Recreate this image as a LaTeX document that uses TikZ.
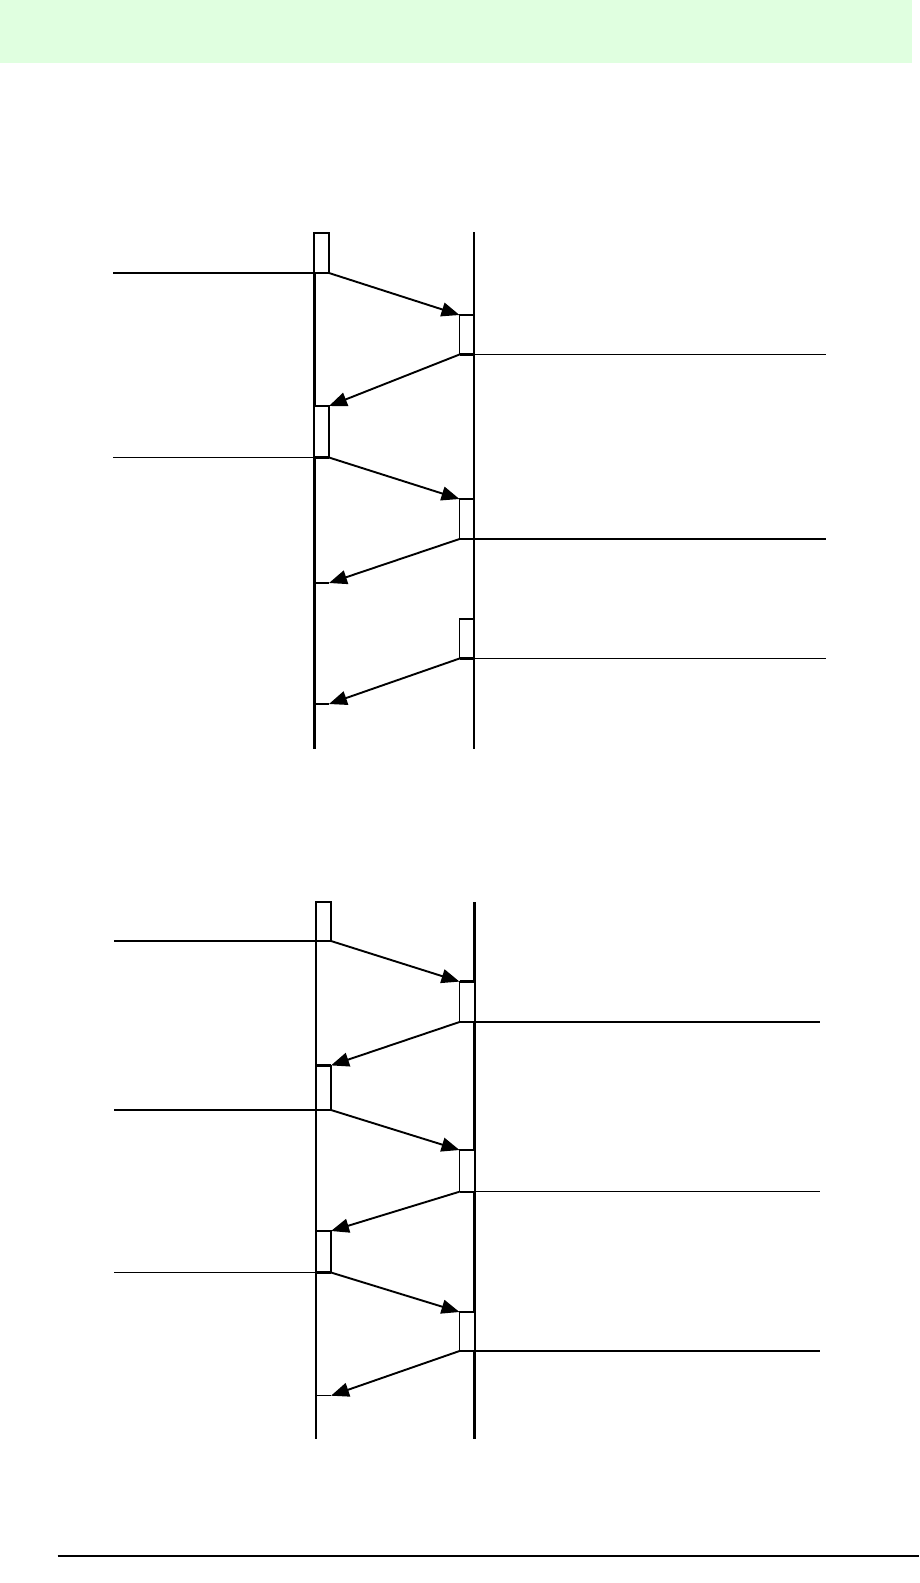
\documentclass[tikz,border=0pt]{standalone}
\usetikzlibrary{arrows.meta}
\definecolor{bandgreen}{RGB}{224,255,224}
\tikzset{
  lifethick/.style={line width=3pt},
  lifethin/.style={line width=2pt},
  actbox/.style={draw,line width=1.1pt,fill=white},
  boxtop/.style={line width=2.3pt},
  msg/.style={line width=1.9pt,-{Triangle[length=18pt,width=14pt]}},
  signal/.style={line width=1.3pt},
  tick/.style={line width=2.3pt}
}
\newcommand{\actbx}[4]{%
  \draw[actbox] (#1,#2) rectangle (#3,#4);
  \draw[boxtop] (#1,#2) -- (#3,#2);
  \draw[boxtop] (#1,#4) -- (#3,#4);}
\begin{document}
\begin{tikzpicture}[x=1pt,y=-1pt]
\useasboundingbox (0,0) rectangle (919,1583);
\fill[bandgreen] (0,0) rectangle (912,63);
% ---------- top diagram ----------
\coordinate (L1t) at (314,232); \coordinate (L1b) at (314,749);
\coordinate (R1t) at (473.6,232); \coordinate (R1b) at (473.6,749);
\draw[lifethick] (L1t) -- (L1b);
\draw[lifethin] (R1t) -- (R1b);
% activation boxes
\actbx{314}{233}{329}{273}
\actbx{459.5}{315}{473.6}{354.5}
\actbx{314}{406}{329}{457.5}
\actbx{459.5}{499}{473.6}{539}
\actbx{459.5}{619}{473.6}{658.5}
% inputs / outputs
\coordinate (a1) at (113,273); \coordinate (a1e) at (314,273);
\coordinate (a2) at (113,457.5); \coordinate (a2e) at (314,457.5);
\draw[signal] (a1) -- (a1e);
\draw[signal] (a2) -- (a2e);
\coordinate (o1) at (473.6,354.5); \coordinate (o1e) at (826,354.5);
\coordinate (o2) at (473.6,539); \coordinate (o2e) at (826,539);
\coordinate (o3) at (473.6,658.5); \coordinate (o3e) at (826,658.5);
\draw[signal] (o1) -- (o1e);
\draw[signal] (o2) -- (o2e);
\draw[signal] (o3) -- (o3e);
% messages
\coordinate (m1s) at (329,273); \coordinate (m1e) at (459.5,315);
\coordinate (m2s) at (459.5,354.5); \coordinate (m2e) at (329,406);
\coordinate (m3s) at (329,457.5); \coordinate (m3e) at (459.5,499);
\coordinate (m4s) at (459.5,539); \coordinate (m4e) at (329,583);
\coordinate (m5s) at (459.5,658.5); \coordinate (m5e) at (329,704);
\draw[msg] (m1s) -- (m1e);
\draw[msg] (m2s) -- (m2e);
\draw[msg] (m3s) -- (m3e);
\draw[msg] (m4s) -- (m4e);
\draw[msg] (m5s) -- (m5e);
\coordinate (t1) at (314,583); \coordinate (t2) at (314,704);
\draw[tick] (t1) -- (m4e);
\draw[signal] (t2) -- (m5e);
% ---------- bottom diagram ----------
\coordinate (L2t) at (316,902); \coordinate (L2b) at (316,1439);
\coordinate (R2t) at (474.6,902); \coordinate (R2b) at (474.6,1439);
\draw[lifethin] (L2t) -- (L2b);
\draw[lifethick] (R2t) -- (R2b);
\actbx{316}{902}{331}{941}
\actbx{459.5}{981.6}{474.6}{1022}
\actbx{316}{1065.4}{331}{1110}
\actbx{459.5}{1150}{474.6}{1191.7}
\actbx{316}{1231}{331}{1272.5}
\actbx{459.5}{1312}{474.6}{1351}
\coordinate (b1) at (114,941); \coordinate (b1e) at (316,941);
\coordinate (b2) at (114,1110); \coordinate (b2e) at (316,1110);
\coordinate (b3) at (114,1272.5); \coordinate (b3e) at (316,1272.5);
\draw[signal] (b1) -- (b1e);
\draw[signal] (b2) -- (b2e);
\draw[signal] (b3) -- (b3e);
\coordinate (p1) at (474.6,1022); \coordinate (p1e) at (820,1022);
\coordinate (p2) at (474.6,1191.7); \coordinate (p2e) at (820,1191.7);
\coordinate (p3) at (474.6,1351); \coordinate (p3e) at (820,1351);
\draw[signal] (p1) -- (p1e);
\draw[signal] (p2) -- (p2e);
\draw[signal] (p3) -- (p3e);
\coordinate (n1s) at (331,941); \coordinate (n1e) at (459.5,981.6);
\coordinate (n2s) at (459.5,1022); \coordinate (n2e) at (331,1065.4);
\coordinate (n3s) at (331,1110); \coordinate (n3e) at (459.5,1150);
\coordinate (n4s) at (459.5,1191.7); \coordinate (n4e) at (331,1231);
\coordinate (n5s) at (331,1272.5); \coordinate (n5e) at (459.5,1312);
\coordinate (n6s) at (459.5,1351); \coordinate (n6e) at (331,1395.7);
\draw[msg] (n1s) -- (n1e);
\draw[msg] (n2s) -- (n2e);
\draw[msg] (n3s) -- (n3e);
\draw[msg] (n4s) -- (n4e);
\draw[msg] (n5s) -- (n5e);
\draw[msg] (n6s) -- (n6e);
\coordinate (t3) at (316,1395.7);
\draw[signal] (t3) -- (n6e);
% footer rule
\coordinate (f1) at (57.6,1556); \coordinate (f2) at (919,1556);
\draw[line width=1.3pt] (f1) -- (f2);
\end{tikzpicture}
\end{document}
